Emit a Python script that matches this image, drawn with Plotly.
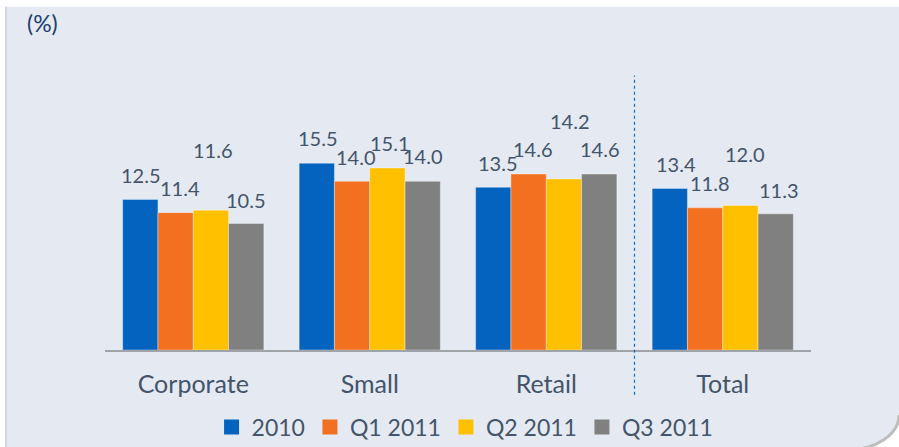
import plotly.graph_objects as go

categories = ["Corporate", "Small", "Retail", "Total"]
series_names = ["2010", "Q1 2011", "Q2 2011", "Q3 2011"]
v2010 = [12.5, 15.5, 13.5, 13.4]
vq1 = [11.4, 14.0, 14.6, 11.8]
vq2 = [11.6, 15.1, 14.2, 12.0]
vq3 = [10.5, 14.0, 14.6, 11.3]

colors = ["#0563C0", "#F37021", "#FFC000", "#808080"]
# label placement offsets (screen pixels), style only
label_xshift = [[-52, -52, -48, -47], [-13, -14, -13, -13], [20, 20, 24, 22], [53, 53, 54, 56]]
label_yshift = [[24, 24, 24, 24], [24, 24, 24, 24], [58, 24, 56, 50], [23, 25, 24, 23]]

# the capture squeezes the page vertically: screen_y = SY * page_y + OY
SY, OY = 0.9697, 3.5
def pg(y_screen):
    return (y_screen - OY) / SY

W, H = 899, 461
ML, MR, MT, MB = 105, 88, 109, 106
PW, PH = W - ML - MR, H - MT - MB
def px(x):
    return (x - ML) / PW
def py(y_screen):
    return (H - MB - pg(y_screen)) / PH

BG = "#E5EAF2"
TXT = "#44546A"
FONT = "Lato, Noto Sans, sans-serif"

fig = go.Figure()
all_vals = [v2010, vq1, vq2, vq3]
for name, vals, c in zip(series_names, all_vals, colors):
    fig.add_trace(go.Bar(x=categories, y=vals, name=name, showlegend=False,
                         marker=dict(color=c, line=dict(color="rgba(255,255,255,0.35)", width=1)),
                         hoverinfo="y"))
for name, c in zip(series_names, colors):
    fig.add_trace(go.Scatter(x=[None], y=[None], mode="markers", name=name,
                             marker=dict(symbol="square", size=15, color=c)))

annotations = []
for si, vals in enumerate(all_vals):
    for ci, v in enumerate(vals):
        annotations.append(dict(x=categories[ci], y=v, xref="x", yref="y", text=f"{v:.1f}",
                                showarrow=False, xshift=label_xshift[si][ci],
                                yshift=label_yshift[si][ci] / SY,
                                font=dict(family=FONT, size=20, color=TXT)))
annotations.append(dict(x=px(42), y=py(24), xref="paper", yref="paper", text="(%)", showarrow=False,
                        xanchor="center", yanchor="middle",
                        font=dict(family=FONT, size=23, color="#1F3D6E")))

k = 0.552
corner = (f"M {px(899)},{py(412)} "
          f"C {px(899)},{py(412 + 35 * k)} {px(846 + 53 * k)},{py(447)} {px(846)},{py(447)} "
          f"L {px(846)},{py(470)} L {px(905)},{py(470)} L {px(905)},{py(412)} Z")
shapes = [
    dict(type="rect", xref="paper", yref="paper", x0=px(0), x1=px(W), y0=py(8), y1=py(-10),
         fillcolor="white", line=dict(width=0), layer="below"),
    dict(type="rect", xref="paper", yref="paper", x0=px(0), x1=px(5), y0=py(470), y1=py(8),
         fillcolor="white", line=dict(width=0), layer="below"),
    dict(type="line", xref="paper", yref="paper", x0=px(6), x1=px(6), y0=py(470), y1=py(8),
         line=dict(color="#D4D7DB", width=2), layer="below"),
    dict(type="path", xref="paper", yref="paper", path=corner,
         fillcolor="white", line=dict(color="rgba(0,0,0,0)", width=0), layer="below"),
    dict(type="path", xref="paper", yref="paper",
         path=(f"M {px(899)},{py(412)} C {px(899)},{py(412 + 35 * k)} "
               f"{px(846 + 53 * k)},{py(447)} {px(846)},{py(447)}"),
         line=dict(color="#BDBDBD", width=3), layer="below"),
    dict(type="line", xref="x", yref="paper", x0=2.5, x1=2.5, y0=py(392), y1=py(76),
         line=dict(color="#0070C0", width=1.2, dash="dot")),
]

fig.update_layout(
    width=W, height=H,
    margin=dict(l=ML, r=MR, t=MT, b=MB),
    paper_bgcolor=BG, plot_bgcolor=BG,
    barmode="group", bargap=0.2, bargroupgap=0,
    font=dict(family=FONT, color=TXT),
    showlegend=True,
    legend=dict(orientation="h", x=0.51, xanchor="center", y=py(424), yanchor="middle",
                font=dict(family=FONT, size=23, color=TXT), bgcolor="rgba(0,0,0,0)",
                itemwidth=30, traceorder="normal"),
    xaxis=dict(showline=True, linecolor="#A0A4A8", linewidth=2, ticks="", showgrid=False,
               tickfont=dict(family=FONT, size=25, color=TXT), ticklabelstandoff=11, fixedrange=True),
    yaxis=dict(range=[0, 20], visible=False, showgrid=False, fixedrange=True),
    annotations=annotations, shapes=shapes,
)

post = ("document.documentElement.style.margin='0';document.body.style.margin='0';"
        "document.documentElement.style.overflow='hidden';document.body.style.overflow='hidden';"
        "var g=document.querySelector('.plotly-graph-div');"
        "g.style.position='fixed';g.style.left='0px';g.style.top='0px';")
fig.write_html("out.html", config={"displayModeBar": False}, post_script=post)
